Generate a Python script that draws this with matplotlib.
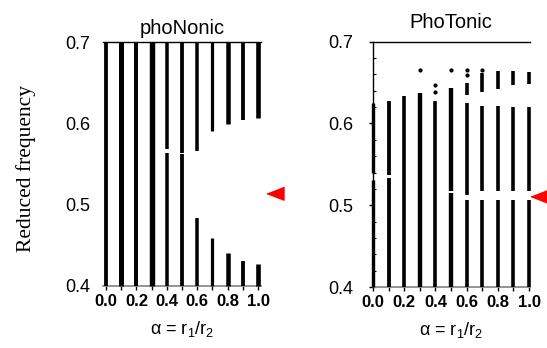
import matplotlib
matplotlib.use("Agg")
import matplotlib.pyplot as plt
import numpy as np

plt.rcParams['font.family'] = ['Liberation Sans', 'DejaVu Sans']
plt.rcParams['mathtext.fontset'] = 'custom'
plt.rcParams['mathtext.rm'] = 'Liberation Sans'
plt.rcParams['mathtext.it'] = 'Liberation Sans:italic'

# ---- data ----
alphas = [0.0, 0.1, 0.2, 0.3, 0.4, 0.5, 0.6, 0.7, 0.8, 0.9, 1.0]

# phoNonic bands: list of (low, high) frequency segments per alpha
phononic_bands = [
    [(0.40, 0.70)],
    [(0.40, 0.70)],
    [(0.40, 0.70)],
    [(0.40, 0.70)],
    [(0.40, 0.563), (0.569, 0.70)],
    [(0.40, 0.562), (0.564, 0.70)],
    [(0.40, 0.484), (0.566, 0.70)],
    [(0.40, 0.459), (0.590, 0.70)],
    [(0.40, 0.441), (0.599, 0.70)],
    [(0.40, 0.431), (0.604, 0.70)],
    [(0.40, 0.427), (0.606, 0.70)],
]

# phoTonic bands
photonic_bands = [
    [(0.40, 0.531), (0.539, 0.625)],
    [(0.40, 0.533), (0.537, 0.628)],
    [(0.40, 0.633)],
    [(0.40, 0.637)],
    [(0.40, 0.628)],
    [(0.40, 0.515), (0.517, 0.643)],
    [(0.40, 0.507), (0.513, 0.625), (0.635, 0.650)],
    [(0.40, 0.506), (0.517, 0.621), (0.639, 0.662)],
    [(0.40, 0.506), (0.518, 0.621), (0.642, 0.664)],
    [(0.40, 0.506), (0.518, 0.620), (0.647, 0.664)],
    [(0.40, 0.506), (0.518, 0.620), (0.648, 0.663)],
]
# isolated points in phoTonic panel
photonic_dots_x = [0.3, 0.4, 0.4, 0.5, 0.6, 0.6, 0.7]
photonic_dots_y = [0.665, 0.639, 0.647, 0.665, 0.659, 0.666, 0.666]

# red markers (frequency indicated)
marker_phononic = (1.115, 0.514)
marker_photonic = (1.067, 0.511)

yticks = [0.4, 0.5, 0.6, 0.7]
ytick_labels = ['0.4', '0.5', '0.6', '0.7']
xtick_labels = ['0.0', '', '0.2', '', '0.4', '', '0.6', '', '0.8', '', '1.0']

# styles (px widths of bars)
phon_w = [3.8, 5.0, 4.0, 5.4, 3.5, 3.8, 3.5, 3.2, 4.5, 3.8, 4.6]
phot_w = [3.4, 3.8, 3.6, 4.4, 3.6, 4.4, 3.6, 3.6, 3.6, 3.6, 3.6]

fig = plt.figure(figsize=(5.47, 3.48), dpi=100)
axL = fig.add_axes([103/547, 1-286/348, 158/547, 244/348])
axR = fig.add_axes([372.5/547, 1-287/348, 157/547, 245.3/348])

px = 0.72  # points per pixel

def band_plot(ax, bands, widths):
    for a, segs, w in zip(alphas, bands, widths):
        lo = [s[0] for s in segs]
        hi = [s[1] for s in segs]
        ax.vlines([a]*len(segs), lo, hi, colors='black', linewidth=w*px,
                  capstyle='butt', clip_on=False, zorder=3)

band_plot(axL, phononic_bands, phon_w)
band_plot(axR, photonic_bands, phot_w)
axR.scatter(photonic_dots_x, photonic_dots_y, s=9, color='black', zorder=3,
            linewidths=0)

tri = [(-1, 0), (1, -0.78), (1, 0.78)]
axL.plot([marker_phononic[0]], [marker_phononic[1]], marker=tri, ms=17*px,
         color='#ff0000', clip_on=False, zorder=5, linestyle='none')
axR.plot([marker_photonic[0]], [marker_photonic[1]], marker=tri, ms=17*px,
         color='#ff0000', clip_on=False, zorder=5, linestyle='none')

for ax in (axL, axR):
    ax.set_ylim(0.4, 0.7)
    ax.set_yticks(yticks)
    ax.set_yticklabels(ytick_labels, fontsize=13)
    ax.set_xticks(alphas)
    ax.set_xticklabels(xtick_labels, fontsize=12, fontweight='bold')
    ax.spines['right'].set_visible(False)
    ax.spines['top'].set_color('black')
    ax.spines['top'].set_linewidth(1.0)
    ax.spines['bottom'].set_color('#808080')
    ax.spines['bottom'].set_linewidth(1.2)
    ax.tick_params(axis='x', direction='out', length=3, width=1, pad=3,
                   color='black')
    ax.set_xlabel('α = r$_1$/r$_2$', fontsize=13, labelpad=7)

axL.set_xlim(-0.0197, 1.0197)
axL.spines['left'].set_visible(False)
axL.tick_params(axis='y', length=0, pad=9)

axR.set_xlim(-0.003, 1.003)
axR.spines['left'].set_color('black')
axR.spines['left'].set_linewidth(1.0)
axR.set_yticks(np.arange(0.4, 0.7001, 0.02), minor=True)
axR.tick_params(axis='y', which='major', direction='out', length=3, width=1, pad=11)
axR.tick_params(axis='y', which='minor', direction='in', length=2, width=0.8)

axL.set_title('phoNonic', fontsize=14.5, pad=6)
axR.set_title('PhoTonic', fontsize=14.5, pad=10)

fig.text(26/547, 1-168/348, 'Reduced frequency', rotation=90,
         ha='center', va='center', fontsize=15.5, family='Liberation Serif')

fig.savefig('out.png', dpi=100)
